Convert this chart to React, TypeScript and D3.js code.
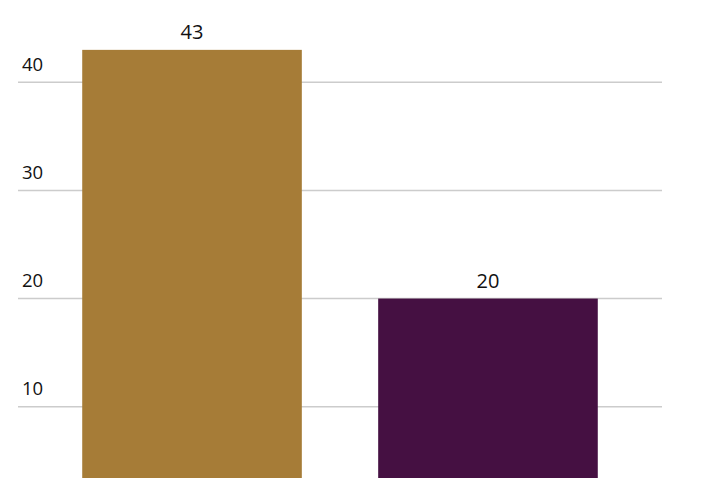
import React, { useEffect, useRef } from 'react';
import * as d3 from 'd3';

const categories = ['A', 'B'];
const values = [43, 20];
const barColors = ['#A67C37', '#451042'];
const tickValues = [10, 20, 30, 40];

const App: React.FC = () => {
  const ref = useRef<SVGSVGElement | null>(null);

  useEffect(() => {
    if (!ref.current) return;
    const width = 720;
    const height = 478;

    const svg = d3.select(ref.current);
    svg.selectAll('*').remove();
    svg.attr('width', width).attr('height', height);

    const x = d3.scaleBand<string>()
      .domain(categories)
      .range([18, 662])
      .paddingInner(0.258)
      .paddingOuter(0.217);

    const y = d3.scaleLinear().domain([0, 40]).range([514.8, 82.3]);

    // gridlines + tick labels
    const grid = svg.append('g');
    grid.selectAll('line')
      .data(tickValues)
      .join('line')
      .attr('x1', 18)
      .attr('x2', 662)
      .attr('y1', d => y(d))
      .attr('y2', d => y(d))
      .attr('stroke', '#cccccc')
      .attr('stroke-width', 1.6);

    grid.selectAll('text')
      .data(tickValues)
      .join('text')
      .attr('x', 22)
      .attr('y', d => y(d) - 11.6)
      .attr('font-family', '"Open Sans", sans-serif')
      .attr('font-size', 18.5)
      .attr('fill', '#111')
      .text(d => d);

    const data = categories.map((c, i) => ({ c, v: values[i], color: barColors[i] }));

    svg.append('g')
      .selectAll('rect')
      .data(data)
      .join('rect')
      .attr('x', d => x(d.c) as number)
      .attr('width', x.bandwidth())
      .attr('y', d => y(d.v))
      .attr('height', d => y(0) - y(d.v))
      .attr('fill', d => d.color);

    svg.append('g')
      .selectAll('text')
      .data(data)
      .join('text')
      .attr('x', d => (x(d.c) as number) + x.bandwidth() / 2)
      .attr('y', d => y(d.v) - 10.5)
      .attr('text-anchor', 'middle')
      .attr('font-family', '"Open Sans", sans-serif')
      .attr('font-size', 20)
      .attr('fill', '#111')
      .text(d => d.v);
  }, []);

  return (
    <svg ref={ref} style={{ position: 'absolute', left: 0, top: 0, display: 'block' }} />
  );
};

export default App;
